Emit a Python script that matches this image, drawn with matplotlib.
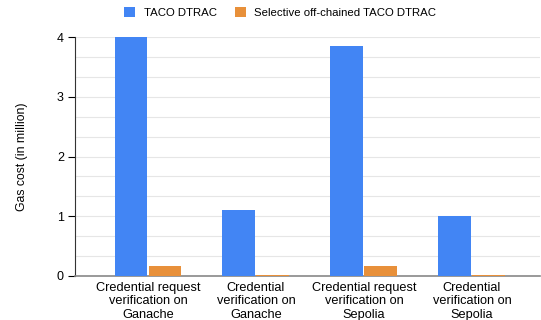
import numpy as np
import matplotlib.pyplot as plt

plt.rcParams['font.family'] = ['Liberation Sans', 'DejaVu Sans']

categories = ['Credential request\nverification on\nGanache', 'Credential\nverification on\nGanache',
              'Credential request\nverification on\nSepolia', 'Credential\nverification on\nSepolia']
taco = [4.0, 1.10, 3.85, 1.0]
selective = [0.17, 0.01, 0.17, 0.01]

fig = plt.figure(figsize=(5.41, 3.2), dpi=100)
ax = fig.add_axes([0.1386, 0.1375, 0.8594, 0.7465])

x = np.arange(len(categories))
w = 0.305
ax.bar(x - w/2 - 0.005, taco, w, color='#4285f4', label='TACO DTRAC', zorder=3)
ax.bar(x + w/2 + 0.005, selective, w, color='#e8903a', label='Selective off-chained TACO DTRAC', zorder=3)

ax.set_xlim(-0.676, 3.63)
ax.set_ylim(0, 4)
ax.set_yticks([0, 1, 2, 3, 4])
ax.set_yticks(np.arange(0, 4, 1/3), minor=True)
ax.grid(axis='y', which='both', color='#e6e6e6', linewidth=0.8, zorder=0)
ax.set_xticks(x)
ax.set_xticklabels(categories, fontsize=9.2, linespacing=1.18)
ax.tick_params(axis='x', length=0, pad=4)
ax.tick_params(axis='y', which='major', length=5, width=0.8, labelsize=9, pad=3)
ax.tick_params(axis='y', which='minor', length=0)
for s in ['top', 'right']:
    ax.spines[s].set_visible(False)
ax.spines['left'].set_color('#333333')
ax.spines['bottom'].set_color('#888888')
ax.spines['bottom'].set_linewidth(1.2)
ax.set_ylabel('Gas cost (in million)', fontsize=8.8, labelpad=21)

fig.legend(loc='upper center', bbox_to_anchor=(0.518, 1.01), ncol=2, frameon=False, fontsize=8.2,
           handlelength=0.95, handleheight=0.95, columnspacing=1.6, handletextpad=0.75)

fig.savefig('out.png', dpi=100)
